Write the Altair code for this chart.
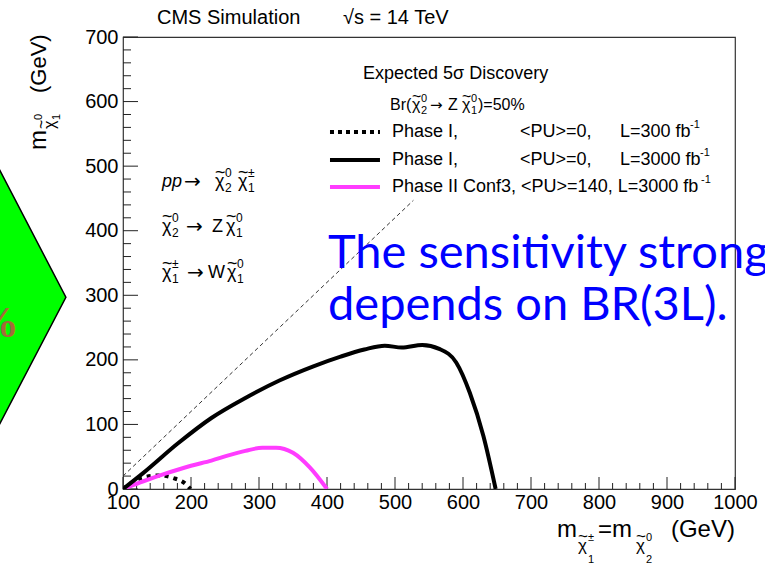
import altair as alt
import pandas as pd

SANS = "Liberation Sans"

# ---------------- data ----------------
black_x = [100, 130, 180, 230, 280, 330, 380, 420, 455, 485, 510, 540, 565, 590, 610, 630, 648]
black_y = [0, 25, 70, 110, 141, 168, 190, 205, 216, 222, 219, 223, 217, 196, 149, 82, 0]

magenta_x = [100, 130, 160, 200, 230, 255, 280, 305, 325, 350, 375, 400]
magenta_y = [0, 12, 23, 36, 44, 52, 59, 64, 64, 56, 33, 0]

dotted_x = [100, 130, 154, 174, 193, 199]
dotted_y = [0, 18, 21, 17, 7, 0]

diag_x = [100, 527]
diag_y = [20, 447]

x_ticks = list(range(100, 1001, 100))
y_ticks = list(range(0, 701, 100))
x_minor = [v for v in range(100, 1001, 20) if v % 100 != 0]
y_minor = [v for v in range(0, 701, 20) if v % 100 != 0]

# green diamond (slide decoration, left of the frame)
diamond_x = [-96, 16]
diamond_top = [523.5, 297]
diamond_bot = [71.2, 297]

# legend
leg_x0, leg_x1 = 404.4, 477.9
leg_rows = [552.9, 509.5, 467.7]

W, H = 612, 452
XS = alt.Scale(domain=[100, 1000], nice=False, zero=False)
YS = alt.Scale(domain=[0, 700], nice=False, zero=False)

x_axis = alt.Axis(values=x_ticks, labelFontSize=20, labelFont=SANS, labelColor="black",
                  ticks=False, domain=False, grid=False, title=None, labelPadding=3,
                  labelFlush=False, labelOverlap=False, format="d")
y_axis = alt.Axis(values=y_ticks, labelFontSize=20, labelFont=SANS, labelColor="black",
                  ticks=False, domain=False, grid=False, title=None, labelPadding=5,
                  labelFlush=False, labelOverlap=False, format="d")

XE = lambda f="x:Q": alt.X(f, scale=XS, axis=x_axis)
YE = lambda f="y:Q": alt.Y(f, scale=YS, axis=y_axis)


def line_layer(xs, ys, **kw):
    df = pd.DataFrame({"x": xs, "y": ys})
    return alt.Chart(df).mark_line(clip=True, **kw).encode(x=XE(), y=YE())


def txt(text, x, y, size, dx=0, dy=0, align="left", baseline="alphabetic", font=SANS,
        style="normal", weight="normal", color="black", angle=0):
    df = pd.DataFrame({"x": [x], "y": [y], "t": [text]})
    return alt.Chart(df).mark_text(align=align, baseline=baseline, dx=dx, dy=dy, fontSize=size,
                                   font=font, fontStyle=style, fontWeight=weight, color=color,
                                   angle=angle).encode(x=XE(), y=YE(), text="t:N")


def chi(dx, dy, size):
    """chi with a wide tilde above it"""
    return [("\u03c7", dx, dy, size, SANS), ("~", dx, dy - 0.52 * size, size, SANS)]


ARROW = ("\u2192", "DejaVu Sans")

layers = []

# ticks (inside the frame)
layers.append(alt.Chart(pd.DataFrame({"x": x_ticks})).mark_rule(color="#222", strokeWidth=1).encode(
    x=XE(), y=alt.value(H), y2=alt.value(H - 12)))
layers.append(alt.Chart(pd.DataFrame({"y": y_ticks})).mark_rule(color="#222", strokeWidth=1).encode(
    y=YE(), x=alt.value(0), x2=alt.value(15)))
layers.append(alt.Chart(pd.DataFrame({"x": x_minor})).mark_rule(color="#222", strokeWidth=1).encode(
    x=XE(), y=alt.value(H), y2=alt.value(H - 6)))
layers.append(alt.Chart(pd.DataFrame({"y": y_minor})).mark_rule(color="#222", strokeWidth=1).encode(
    y=YE(), x=alt.value(0), x2=alt.value(8)))

# green diamond
layers.append(alt.Chart(pd.DataFrame({"x": diamond_x, "y": diamond_top, "y2": diamond_bot}))
              .mark_area(color="#00ff00", stroke="black", strokeWidth=1.5, opacity=1).encode(
    x=XE(), y=YE(), y2="y2:Q"))
layers.append(txt("50%", -52.9, 235.4, 44, align="right", font="Liberation Serif", weight="bold",
                  color="#a26b3a"))

# diagonal
layers.append(line_layer(diag_x, diag_y, color="#333", strokeWidth=1, strokeDash=[4, 3]))

# curves
layers.append(line_layer(dotted_x, dotted_y, color="black", strokeWidth=4, strokeDash=[4, 5],
                         interpolate="monotone"))
layers.append(line_layer(magenta_x, magenta_y, color="#ff3cff", strokeWidth=4, interpolate="monotone"))
layers.append(line_layer(black_x, black_y, color="black", strokeWidth=4, interpolate="monotone"))

# legend symbols
leg_styles = [dict(color="black", strokeWidth=4, strokeDash=[4, 4]),
              dict(color="black", strokeWidth=4),
              dict(color="#ff3cff", strokeWidth=4)]
for ry, st in zip(leg_rows, leg_styles):
    layers.append(alt.Chart(pd.DataFrame({"x": [leg_x0], "x2": [leg_x1], "y": [ry]})).mark_rule(**st).encode(
        x=XE(), x2="x2:Q", y=YE()))

# legend texts
layers.append(txt("Expected 5\u03c3 Discovery", 452.9, 635.7, 18))
bx, by = 492.6, 587
br_pieces = ([("Br(", 0, 0, 16, SANS)] + chi(22, 0, 16) + [("2", 31, 4, 11, SANS), ("0", 31, -8, 11, SANS),
             (ARROW[0], 40, 0, 15, ARROW[1]), ("Z", 58, 0, 16, SANS)] + chi(72, 0, 16) +
             [("1", 81, 4, 11, SANS), ("0", 81, -8, 11, SANS), (")=50%", 88, 0, 16, SANS)])
for t, dx, dy, s, f in br_pieces:
    layers.append(txt(t, bx, by, s, dx=dx, dy=dy, font=f))
row_texts = [("Phase I,", "<PU>=0,", "L=300 fb", 70), ("Phase I,", "<PU>=0,", "L=3000 fb", 80)]
for ry, (a, b, c, sup) in zip(leg_rows[:2], row_texts):
    layers.append(txt(a, 495.6, ry, 18, baseline="middle"))
    layers.append(txt(b, 683.8, ry, 18, baseline="middle"))
    layers.append(txt(c, 830.9, ry, 18, baseline="middle"))
    layers.append(txt("-1", 830.9, ry, 11, dx=sup, dy=-7, baseline="middle"))
layers.append(txt("Phase II Conf3, <PU>=140, L=3000 fb", 495.6, leg_rows[2], 18, baseline="middle"))
layers.append(txt("-1", 495.6, leg_rows[2], 11, dx=309, dy=-7, baseline="middle"))

# process labels
proc = [
    (467.7, [("pp", 0, 0, 18, SANS, "italic"), (ARROW[0], 22, 1, 20, ARROW[1], "normal")]
     + [p + ("normal",) for p in chi(53, 0, 18)]
     + [("2", 63, 5, 12, SANS, "normal"), ("0", 63, -10, 12, SANS, "normal")]
     + [p + ("normal",) for p in chi(76, 0, 18)]
     + [("1", 86, 5, 12, SANS, "normal"), ("\u00b1", 86, -10, 12, SANS, "normal")]),
    (398.5, [p + ("normal",) for p in chi(0, 0, 18)]
     + [("2", 10, 5, 12, SANS, "normal"), ("0", 10, -10, 12, SANS, "normal"),
        (ARROW[0], 24, 1, 20, ARROW[1], "normal"), ("Z", 50, 0, 18, SANS, "normal")]
     + [p + ("normal",) for p in chi(64, 0, 18)]
     + [("1", 74, 5, 12, SANS, "normal"), ("0", 74, -10, 12, SANS, "normal")]),
    (326.3, [p + ("normal",) for p in chi(0, 0, 18)]
     + [("1", 10, 5, 12, SANS, "normal"), ("\u00b1", 10, -10, 12, SANS, "normal"),
        (ARROW[0], 25, 1, 20, ARROW[1], "normal"), ("W", 46, 0, 18, SANS, "normal")]
     + [p + ("normal",) for p in chi(65, 0, 18)]
     + [("1", 75, 5, 12, SANS, "normal"), ("0", 75, -10, 12, SANS, "normal")]),
]
for py, pieces in proc:
    for t, dx, dy, s, f, stl in pieces:
        layers.append(txt(t, 157.4, py, s, dx=dx, dy=dy, font=f, style=stl))

# top labels
layers.append(txt("CMS Simulation", 150, 719.4, 20))
layers.append(txt("\u221as = 14 TeV", 423.5, 719.4, 20))

# axis titles
ytitle = ([("m", 0, 0, 24, SANS)] + chi(21, 9, 16) +
          [("0", 30, -4, 11, SANS), ("1", 30, 14, 11, SANS), ("(GeV)", 57, 0, 22, SANS)])
for t, dx, dy, s, f in ytitle:
    layers.append(txt(t, -13.2, 525, s, dx=dx, dy=dy, angle=270, font=f))
xtitle = ([("m", 0, 0, 24, SANS)] + chi(21, 14, 17) + [("\u00b1", 31, 4, 11, SANS), ("1", 31, 26, 11, SANS),
          ("=m", 41, 0, 24, SANS)] + chi(79, 14, 17) + [("0", 89, 4, 11, SANS), ("2", 89, 26, 11, SANS)])
for t, dx, dy, s, f in xtitle:
    layers.append(txt(t, 738.2, -74.3, s, dx=dx, dy=dy, font=f))
layers.append(txt("(GeV)", 738.2, -74.3, 24, dx=178, align="right"))

# blue overlay
layers.append(txt("The sensitivity strongly", 401.5, 342.3, 47, font="Lato", color="#0000ff"))
layers.append(txt("depends on BR(3L).", 401.5, 261.7, 47, font="Lato", color="#0000ff"))

chart = alt.layer(*layers).properties(
    width=W, height=H,
    autosize=alt.AutoSizeParams(type="none"),
    padding={"left": 123, "top": 37, "right": 30, "bottom": 78},
    background="white",
).configure_view(stroke="#333", strokeWidth=1.2)

chart.save("out.html", embed_options={"renderer": "svg", "actions": False})
